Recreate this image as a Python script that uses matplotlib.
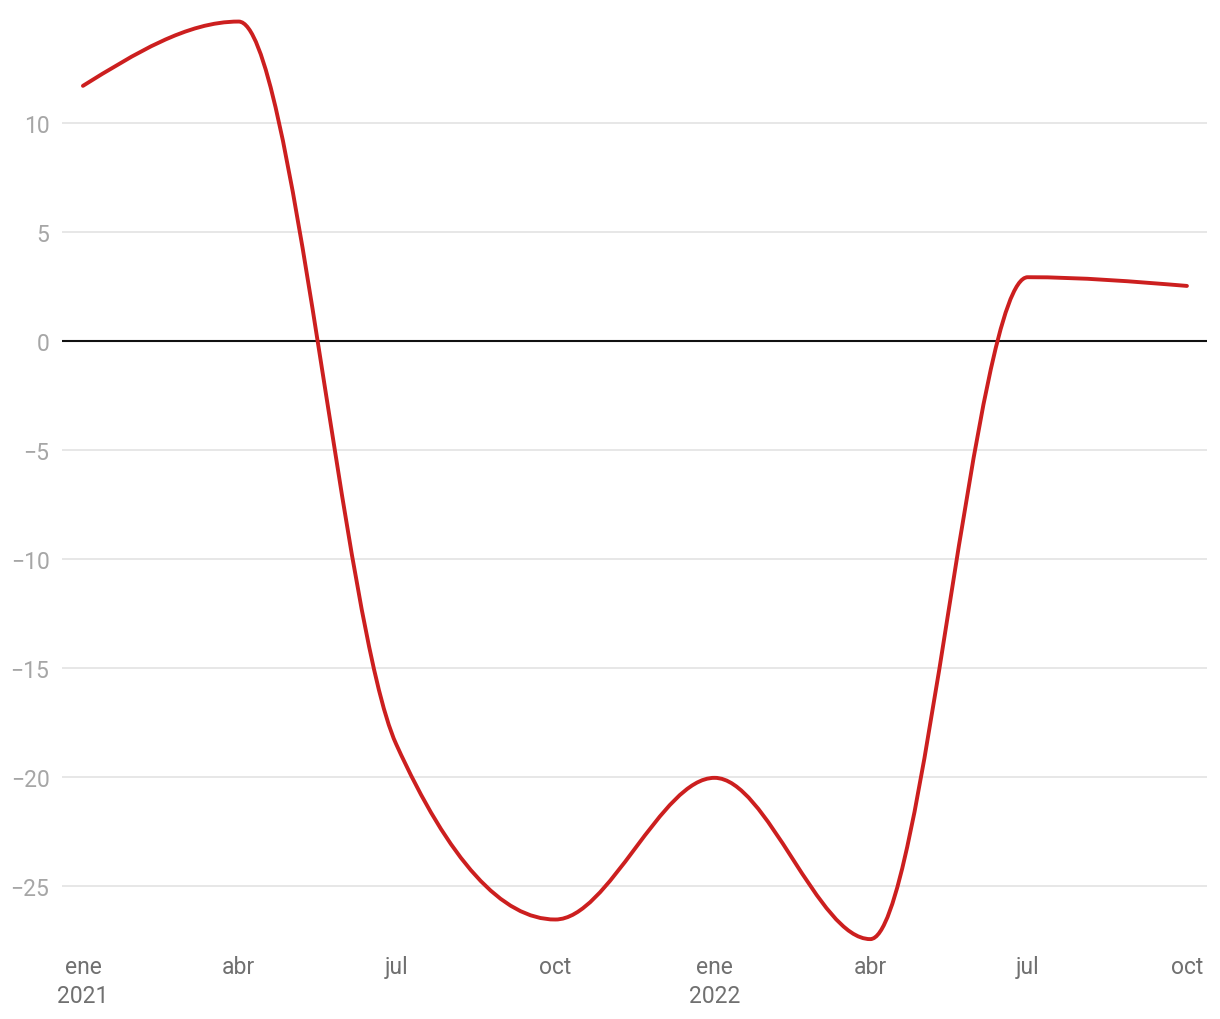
import datetime as dt
import numpy as np
import matplotlib
matplotlib.use("Agg")
from matplotlib import pyplot as plt
from matplotlib import dates as mdates
from matplotlib.path import Path
from matplotlib.patches import PathPatch

plt.rcParams['font.family'] = ['Roboto', 'DejaVu Sans']

# quarterly values
fechas = [dt.date(2021, 1, 1), dt.date(2021, 4, 1), dt.date(2021, 7, 1), dt.date(2021, 10, 1),
          dt.date(2022, 1, 1), dt.date(2022, 4, 1), dt.date(2022, 7, 1), dt.date(2022, 10, 1)]
valores = [11.7, 14.65, -18.5, -26.55, -20.05, -27.45, 2.92, 2.52]
etiquetas = ["ene\n2021", "abr", "jul", "oct", "ene\n2022", "abr", "jul", "oct"]
yticks = [10, 5, 0, -5, -10, -15, -20, -25]


def monotone_path(x, y):
    # bezier path like d3 curveMonotoneX
    x = np.asarray(x, dtype=float)
    y = np.asarray(y, dtype=float)
    n = len(x)
    h = np.diff(x)
    s = np.diff(y) / h
    t = np.zeros(n)
    for i in range(1, n - 1):
        p = (s[i-1] * h[i] + s[i] * h[i-1]) / (h[i-1] + h[i])
        t[i] = (np.sign(s[i-1]) + np.sign(s[i])) * min(abs(s[i-1]), abs(s[i]), 0.5 * abs(p))
    t[0] = (3 * s[0] - t[1]) / 2
    t[-1] = (3 * s[-1] - t[-2]) / 2
    verts = [(x[0], y[0])]
    codes = [Path.MOVETO]
    for i in range(n - 1):
        dx = (x[i+1] - x[i]) / 3
        verts += [(x[i] + dx, y[i] + dx * t[i]), (x[i+1] - dx, y[i+1] - dx * t[i+1]), (x[i+1], y[i+1])]
        codes += [Path.CURVE4] * 3
    return Path(verts, codes)


fig = plt.figure(figsize=(12.2, 10.2), dpi=100)
ax = fig.add_axes([62/1220, 74/1020, 1145/1220, 935/1020])

xs = mdates.date2num(fechas)
ax.add_patch(PathPatch(monotone_path(xs, valores), fill=False, edgecolor='#cc1f1f',
                       linewidth=2.8, capstyle='round', joinstyle='round', zorder=3))

ax.set_xlim(xs[0] - 12.1, xs[-1] + 11.6)
ax.set_ylim(-27.72, 15.18)

ax.set_yticks(yticks)
ax.set_xticks(xs)
ax.set_xticklabels(etiquetas)
for y in yticks:
    if y == 0:
        ax.axhline(0, color='#111111', linewidth=1.5, zorder=2)
    else:
        ax.axhline(y, color='#e3e3e3', linewidth=1.2, zorder=1)

for s in ax.spines.values():
    s.set_visible(False)
ax.tick_params(axis='y', length=0, pad=9, labelsize=16.5, labelcolor='#a6a6a6')
ax.tick_params(axis='x', length=0, pad=7.5, labelsize=16.5, labelcolor='#707070')
for lab in ax.get_xticklabels():
    lab.set_linespacing(1.3)

fig.savefig("out.png", dpi=100)
